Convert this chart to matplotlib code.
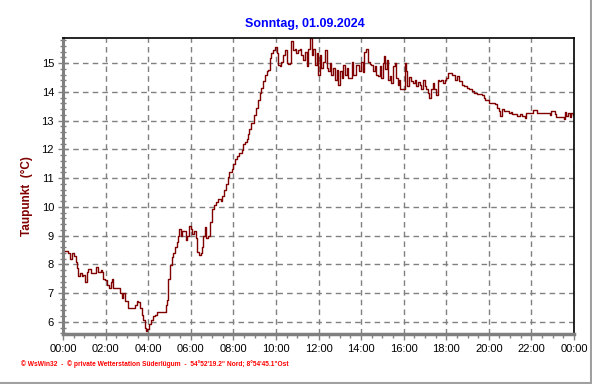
import matplotlib
matplotlib.use('Agg')
import matplotlib.pyplot as plt
from matplotlib.lines import Line2D
from matplotlib.ticker import MultipleLocator

# Taupunkt, Sonntag 01.09.2024 (hours since midnight, degC)
hours = [
    0.00, 0.14, 0.25, 0.33, 0.41, 0.52, 0.60, 0.64, 0.72, 0.80, 0.88, 0.95,
    1.03, 1.11, 1.19, 1.30, 1.42, 1.53, 1.66, 1.77, 1.85, 1.89, 1.97, 2.08,
    2.16, 2.24, 2.29, 2.36, 2.60, 2.68, 2.75, 2.83, 2.91, 3.07, 3.30, 3.38,
    3.46, 3.54, 3.62, 3.69, 3.77, 3.85, 3.90, 3.96, 4.05, 4.12, 4.21, 4.32,
    4.40, 4.76, 4.84, 4.90, 4.95, 5.02, 5.10, 5.18, 5.26, 5.34, 5.41, 5.46,
    5.53, 5.60, 5.68, 5.76, 5.84, 5.92, 6.00, 6.07, 6.15, 6.23, 6.31, 6.40,
    6.46, 6.53, 6.59, 6.67, 6.73, 6.82, 6.90, 6.98, 7.09, 7.18, 7.29, 7.42,
    7.48, 7.56, 7.64, 7.73, 7.81, 7.92, 8.00, 8.08, 8.15, 8.28, 8.39, 8.46,
    8.54, 8.62, 8.70, 8.75, 8.85, 8.96, 9.05, 9.15, 9.24, 9.31, 9.39, 9.48,
    9.56, 9.62, 9.71, 9.79, 9.87, 9.95, 10.03, 10.11, 10.19, 10.26, 10.34, 10.42,
    10.50, 10.57, 10.65, 10.73, 10.81, 10.89, 10.96, 11.04, 11.12, 11.20, 11.28, 11.36,
    11.44, 11.52, 11.60, 11.68, 11.75, 11.83, 11.91, 11.99, 12.07, 12.14, 12.22, 12.30,
    12.38, 12.46, 12.54, 12.61, 12.69, 12.77, 12.85, 12.93, 13.01, 13.09, 13.17, 13.24,
    13.32, 13.40, 13.55, 13.63, 13.78, 13.91, 14.00, 14.10, 14.16, 14.24, 14.32, 14.40,
    14.48, 14.56, 14.64, 14.72, 14.80, 14.88, 14.94, 15.02, 15.07, 15.12, 15.21, 15.28,
    15.35, 15.41, 15.49, 15.57, 15.64, 15.72, 15.80, 15.82, 15.98, 16.06, 16.13, 16.16,
    16.24, 16.35, 16.43, 16.51, 16.59, 16.67, 16.75, 16.82, 16.90, 16.98, 17.04, 17.12,
    17.20, 17.28, 17.36, 17.44, 17.51, 17.59, 17.67, 17.74, 17.83, 17.93, 18.01, 18.09,
    18.25, 18.40, 18.50, 18.62, 18.76, 18.84, 18.92, 18.99, 19.07, 19.22, 19.30, 19.45,
    19.68, 19.76, 19.84, 19.99, 20.15, 20.31, 20.39, 20.47, 20.54, 20.62, 20.70, 20.94,
    21.02, 21.10, 21.33, 21.48, 21.56, 21.69, 21.74, 21.94, 22.08, 22.24, 22.71, 22.86,
    22.94, 23.09, 23.16, 23.48, 23.53, 23.56, 23.64, 23.72, 23.80, 23.88, 23.95, 24.00,
]
taupunkt = [
    8.45, 8.47, 8.38, 8.20, 8.38, 8.30, 8.10, 7.86, 7.58, 7.70, 7.60, 7.62,
    7.40, 7.75, 7.83, 7.70, 7.70, 7.90, 7.75, 7.80, 7.72, 7.50, 7.45, 7.28,
    7.17, 7.40, 7.48, 7.17, 7.17, 7.00, 6.83, 7.00, 6.72, 6.48, 6.48, 6.60,
    6.72, 6.70, 6.48, 6.25, 6.07, 5.79, 5.68, 5.75, 5.93, 6.07, 6.20, 6.25,
    6.33, 6.33, 6.60, 6.77, 7.50, 7.97, 8.26, 8.38, 8.61, 8.78, 9.00, 9.24,
    9.00, 9.15, 9.17, 8.84, 9.00, 9.32, 9.24, 9.07, 9.15, 8.90, 8.44, 8.32,
    8.38, 8.61, 9.00, 9.30, 8.90, 9.00, 9.47, 9.93, 10.05, 10.18, 10.28, 10.20,
    10.39, 10.57, 10.80, 11.03, 11.20, 11.31, 11.49, 11.66, 11.77, 11.87, 11.98, 12.18,
    12.24, 12.35, 12.52, 12.70, 12.90, 13.20, 13.45, 13.73, 13.96, 14.14, 14.36, 14.60,
    14.71, 14.76, 15.17, 15.35, 15.46, 15.54, 15.35, 14.94, 14.88, 15.05, 15.29, 15.46,
    15.00, 14.97, 15.00, 15.75, 15.46, 15.50, 15.35, 15.46, 15.50, 15.29, 15.11, 15.40,
    14.88, 15.50, 15.86, 15.29, 15.50, 14.94, 15.35, 14.60, 15.29, 14.83, 15.05, 15.46,
    14.83, 14.71, 15.00, 14.60, 14.83, 14.42, 14.76, 14.25, 14.71, 14.48, 14.94, 14.60,
    14.83, 14.48, 15.05, 14.60, 14.94, 14.71, 15.05, 14.70, 15.40, 15.50, 15.05, 14.98,
    14.94, 14.71, 14.88, 14.60, 14.54, 14.88, 14.48, 15.00, 15.23, 14.80, 15.11, 14.42,
    14.55, 14.31, 14.88, 15.00, 14.48, 14.25, 14.40, 14.08, 14.08, 15.00, 14.71, 14.19,
    14.50, 14.36, 14.31, 14.40, 14.19, 14.35, 14.25, 14.08, 14.42, 14.20, 14.08, 13.96,
    13.79, 14.08, 14.31, 14.08, 13.90, 14.42, 14.38, 14.42, 14.31, 14.42, 14.48, 14.65,
    14.60, 14.42, 14.54, 14.36, 14.25, 14.19, 14.20, 14.14, 14.08, 14.02, 13.96, 13.93,
    13.90, 13.79, 13.73, 13.62, 13.60, 13.56, 13.45, 13.33, 13.16, 13.39, 13.33, 13.27,
    13.30, 13.22, 13.16, 13.22, 13.16, 13.10, 13.27, 13.27, 13.36, 13.27, 13.27, 13.18,
    13.33, 13.22, 13.13, 13.13, 13.04, 13.30, 13.16, 13.28, 13.13, 13.28, 13.20, 13.20,
]

x_ticks = list(range(0, 25, 2))
x_labels = ['00:00', '02:00', '04:00', '06:00', '08:00', '10:00', '12:00',
            '14:00', '16:00', '18:00', '20:00', '22:00', '00:00']
y_ticks = list(range(6, 16))

plt.rcParams['font.family'] = ['Liberation Sans', 'DejaVu Sans']

fig = plt.figure(figsize=(5.92, 3.84), dpi=100)
ax = fig.add_axes([63 / 592, 1 - 334 / 384, 511 / 592, 296 / 384])

ax.plot(hours, taupunkt, drawstyle='steps-post', color='#800000', linewidth=1.0)

ax.set_xlim(0, 24)
ax.set_ylim(5.58, 15.87)
ax.set_xticks(x_ticks)
ax.set_xticklabels(x_labels)
ax.set_yticks(y_ticks)
ax.xaxis.set_minor_locator(MultipleLocator(0.5))
ax.yaxis.set_minor_locator(MultipleLocator(0.2))

ax.grid(True, which='major', color='#808080', linestyle=(0, (4, 3)), linewidth=1)

gray = '#808080'
ax.spines['left'].set_color(gray)
ax.spines['left'].set_linewidth(2.2)
ax.spines['bottom'].set_color(gray)
ax.spines['bottom'].set_linewidth(2.5)
ax.spines['top'].set_color('black')
ax.spines['top'].set_linewidth(1.2)
ax.spines['right'].set_color('black')
ax.spines['right'].set_linewidth(1.2)

ax.tick_params(axis='y', which='major', direction='inout', length=7, width=1,
               color=gray, labelsize=8, pad=3)
ax.tick_params(axis='y', which='minor', direction='inout', length=4, width=1, color=gray)
ax.tick_params(axis='x', which='major', direction='out', length=4, width=1,
               color=gray, labelsize=8, pad=3)
ax.tick_params(axis='x', which='minor', direction='out', length=3, width=1, color=gray)

fig.text(27 / 592, 0.49, 'Taupunkt  (°C)', rotation=90, color='#800000',
         fontsize=8.5, fontweight='bold', ha='center', va='center')
fig.text(305 / 592, 1 - 24 / 384, 'Sonntag, 01.09.2024', color='#0000ff',
         fontsize=9, fontweight='bold', ha='center', va='center')
fig.text(21 / 592, 1 - 364 / 384,
         '© WsWin32  -  © private Wetterstation Süderlügum  -  54°52\'19.2" Nord; 8°54\'45.1"Ost',
         color='#ff0000', fontsize=4.8, fontweight='bold', ha='left', va='center')

# frame of the picture
fig.add_artist(Line2D([0.9985, 0.9985], [0, 1], transform=fig.transFigure, color='#a0a0a0', lw=1.5))
fig.add_artist(Line2D([0, 1], [0.002, 0.002], transform=fig.transFigure, color='#a0a0a0', lw=1.5))

fig.savefig('out.png', dpi=100)
